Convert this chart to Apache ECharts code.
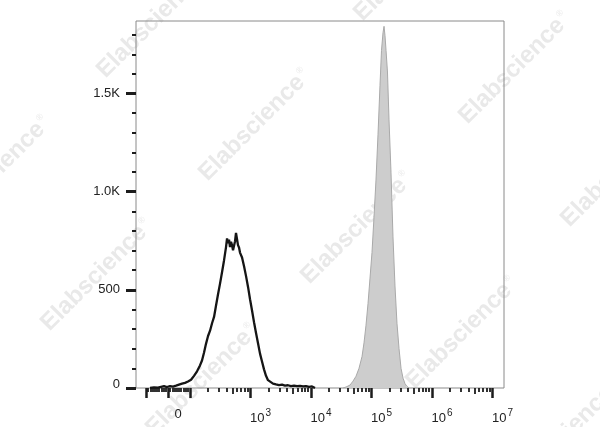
<!DOCTYPE html>
<html>
<head>
<meta charset="utf-8">
<script src="https://cdn.jsdelivr.net/npm/echarts@6/dist/echarts.min.js"></script>
<style>html,body{margin:0;padding:0;background:#fff}#c{width:600px;height:427px}</style>
</head>
<body>
<div id="c"></div>
<script>
// Axis units: display position of a biexponential FL axis; 10^k sits at k (k>=2), 0 sits at 1.636
const xMin = 1.107, xMax = 7.19;
const yMax = 1870;

// Unstained control (black outline histogram)
const unstainedX = [1.339,1.405,1.471,1.521,1.570,1.620,1.669,1.719,1.769,1.818,1.868,1.917,1.967,2.017,2.066,2.116,2.165,2.198,2.231,2.264,2.298,2.331,2.364,2.397,2.430,2.463,2.496,2.529,2.562,2.595,2.612,2.628,2.645,2.661,2.678,2.694,2.711,2.727,2.744,2.760,2.777,2.793,2.810,2.826,2.860,2.893,2.926,2.959,2.992,3.025,3.058,3.091,3.124,3.157,3.190,3.223,3.256,3.289,3.322,3.372,3.421,3.471,3.521,3.570,3.620,3.669,3.719,3.769,3.818,3.868,3.917,3.967,4.017,4.066];
const unstainedY = [0,3,2,6,9,5,10,7,12,17,22,26,33,42,62,85,115,140,180,225,265,292,330,362,420,478,532,590,650,718,762,738,756,718,745,728,702,694,748,790,758,728,716,690,665,620,570,515,452,395,335,280,228,175,135,95,62,40,30,22,18,15,17,12,14,10,12,9,11,8,10,6,8,0];

// Stained sample (grey filled histogram)
const stainedX = [4.529,4.579,4.645,4.694,4.744,4.793,4.843,4.876,4.909,4.942,4.975,5.008,5.041,5.074,5.107,5.140,5.165,5.190,5.207,5.223,5.240,5.264,5.289,5.322,5.355,5.388,5.421,5.455,5.488,5.521,5.554,5.587,5.620];
const stainedY = [0,5,15,35,60,100,160,230,320,430,560,690,870,1060,1290,1540,1720,1810,1843,1795,1720,1610,1370,1100,770,520,330,200,100,50,22,8,0];

// Tick values (fluorescence intensity) and labels
const xMajorTicks = [-100, 0, 100, 1e3, 1e4, 1e5, 1e6, 1e7];
const xLabelTicks = [0, 1e3, 1e4, 1e5, 1e6, 1e7];
const xTickLabels = ['0', '10{s|3}', '10{s|4}', '10{s|5}', '10{s|6}', '10{s|7}'];
const yMajorTicks = [0, 500, 1000, 1500];
const yTickLabels = ['{z|0}', '500', '1.0K', '1.5K'];
const yMinorTicks = [100,200,300,400,600,700,800,900,1100,1200,1300,1400,1600,1700,1800];

// biexponential display transform used for axis tick placement
function biex(v) {
  const d0 = 2 - 22 / 60.5;
  if (v <= 100 && v >= -100) return d0 + v * (2 - d0) / 100;
  if (v > 100) return Math.log10(v);
  return d0 - (Math.log10(-v) - 2) - (2 - d0);
}
const xMinorTicks = [], xMidTicks = [];
for (let v = 10; v < 100; v += 10) { xMinorTicks.push(biex(v)); xMinorTicks.push(biex(-v)); }
for (let k = 2; k <= 6; k++) {
  for (let m = 2; m <= 9; m++) {
    const v = m * Math.pow(10, k);
    if (m === 5) xMidTicks.push(biex(v)); else xMinorTicks.push(biex(v));
  }
}
const xMajorPos = xMajorTicks.map(biex);
const xLabelPos = xLabelTicks.map(biex);

const font = '"Liberation Sans", Arial, sans-serif';
const tickColor = '#1c1c1c';

function xAxisBase(ticks, len, w, labels) {
  return {
    type: 'value', min: xMin, max: xMax, position: 'bottom', offset: 0,
    axisLine: { show: false },
    splitLine: { show: false },
    axisTick: { show: true, customValues: ticks, length: len, lineStyle: { color: tickColor, width: w } },
    axisLabel: labels ? {
      show: true, customValues: xLabelPos, margin: 20, padding: [0, 0, 0, 20],
      color: '#222', fontFamily: font, fontSize: 13,
      formatter: function (val) {
        let i = xLabelPos.findIndex(p => Math.abs(p - val) < 1e-6);
        return i >= 0 ? xTickLabels[i] : '';
      },
      rich: { s: { fontSize: 10, fontFamily: font, color: '#222', padding: [0, 0, 10, 1] } }
    } : { show: false }
  };
}
function yAxisBase(ticks, len, w, labels) {
  return {
    type: 'value', min: 0, max: yMax, position: 'left', offset: 0,
    axisLine: { show: false },
    splitLine: { show: false },
    axisTick: { show: true, customValues: ticks, length: len, lineStyle: { color: tickColor, width: w } },
    axisLabel: labels ? {
      show: true, customValues: yMajorTicks, margin: 16,
      color: '#222', fontFamily: font, fontSize: 13,
      formatter: function (val) {
        let i = yMajorTicks.indexOf(val);
        return i >= 0 ? yTickLabels[i] : '';
      },
      rich: { z: { fontSize: 13, fontFamily: font, color: '#222', padding: [0, 0, 8, 0] } }
    } : { show: false }
  };
}

// watermark positions
const wm = [[153,22],[-5,172],[255,125],[410,-35],[515,68],[97,275],[357,228],[617,171],[202,380],[462,333],[564,436]];
const graphics = wm.map(p => ({
  type: 'text', x: p[0], y: p[1], rotation: Math.PI / 4, z: -10, silent: true,
  style: {
    text: 'Elabscience{r|®}', fill: '#e9e9e9', font: 'bold 24px ' + font,
    align: 'center', verticalAlign: 'middle',
    rich: { r: { fontSize: 9, fill: '#e9e9e9', padding: [0, 0, 14, 2] } }
  }
}));

const chart = echarts.init(document.getElementById('c'), null, { renderer: 'canvas' });
chart.setOption({
  animation: false,
  backgroundColor: '#fff',
  graphic: graphics,
  grid: { left: 136, right: 96, top: 21, bottom: 39, show: true, borderColor: '#8a8a8a', borderWidth: 1, backgroundColor: 'transparent' },
  xAxis: [
    xAxisBase(xMajorPos, 10, 2.5, true),
    xAxisBase(xMidTicks, 6, 1.8, false),
    xAxisBase(xMinorTicks, 4, 1.8, false)
  ],
  yAxis: [
    yAxisBase(yMajorTicks, 10, 3, true),
    yAxisBase(yMinorTicks, 4, 2, false)
  ],
  series: [
    {
      type: 'line', name: 'Stained', xAxisIndex: 0, yAxisIndex: 0, z: 3,
      data: stainedX.map((x, i) => [x, stainedY[i]]),
      showSymbol: false, symbol: 'none',
      lineStyle: { color: '#a9a9a9', width: 1 },
      areaStyle: { color: '#cdcdcd', opacity: 1 }
    },
    {
      type: 'line', name: 'Unstained', xAxisIndex: 0, yAxisIndex: 0, z: 4,
      data: unstainedX.map((x, i) => [x, unstainedY[i]]),
      showSymbol: false, symbol: 'none',
      lineStyle: { color: '#151515', width: 2.3 }
    }
  ]
});
</script>
</body>
</html>
